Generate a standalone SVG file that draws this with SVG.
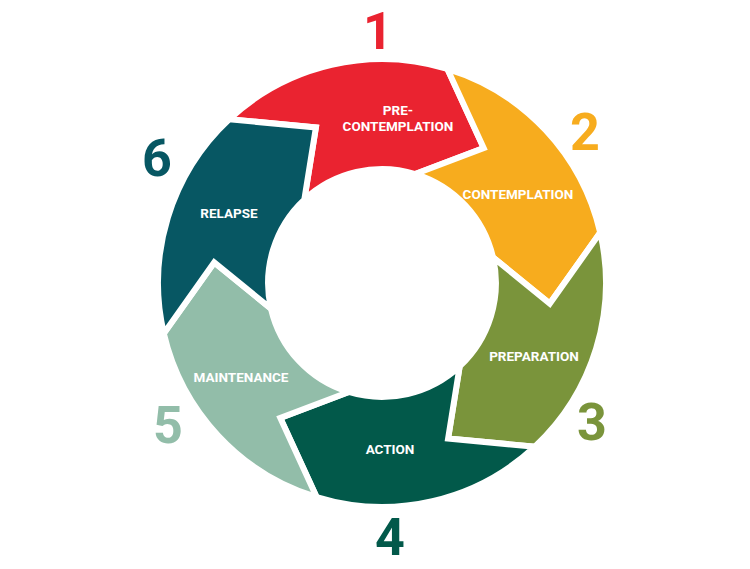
<svg xmlns="http://www.w3.org/2000/svg" width="750" height="569" viewBox="0 0 750 569">
<style>
.seg{stroke:#fff;stroke-width:6;stroke-linejoin:miter}
.lbl{font-family:Roboto,"Liberation Sans",sans-serif;font-weight:bold;font-size:13.5px;fill:#fff;text-anchor:middle}
.num{font-family:Roboto,"Liberation Sans",sans-serif;font-weight:bold;font-size:52px;text-anchor:middle}
</style>
<rect width="750" height="569" fill="#fff"/>
<g id="connectors"></g>
<g id="n1"><path class="seg" fill="#EA2330" d="M229.2,119.3 A224,224 0 0 1 447.4,68.9 L483.7,148.0 L415.3,174.0 A114,114 0 0 0 304.3,199.7 L315.9,127.4 Z"/>
<text class="lbl" x="398" y="115">PRE-</text><text class="lbl" x="398" y="131">CONTEMPLATION</text>
<text class="num" x="378" y="49" fill="#EA2330">1</text></g>
<g id="n2"><path class="seg" fill="#F7AC1E" d="M447.4,68.9 A224,224 0 0 1 600.2,232.6 L549.8,303.6 L493.0,257.4 A114,114 0 0 0 415.3,174.0 L483.7,148.0 Z"/>
<text class="lbl" x="518" y="199">CONTEMPLATION</text>
<text class="num" x="585" y="150" fill="#F7AC1E">2</text></g>
<g id="n3"><path class="seg" fill="#7A943B" d="M600.2,232.6 A224,224 0 0 1 534.8,446.7 L448.1,438.6 L459.7,366.3 A114,114 0 0 0 493.0,257.4 L549.8,303.6 Z"/>
<text class="lbl" x="534" y="361">PREPARATION</text>
<text class="num" x="592" y="440" fill="#7A943B">3</text></g>
<g id="n4"><path class="seg" fill="#02594A" d="M534.8,446.7 A224,224 0 0 1 316.6,497.1 L280.3,418.0 L348.7,392.0 A114,114 0 0 0 459.7,366.3 L448.1,438.6 Z"/>
<text class="lbl" x="390" y="454">ACTION</text>
<text class="num" x="390" y="555" fill="#02594A">4</text></g>
<g id="n5"><path class="seg" fill="#92BDA9" d="M316.6,497.1 A224,224 0 0 1 163.8,333.4 L214.2,262.4 L271.0,308.7 A114,114 0 0 0 348.7,392.0 L280.3,418.0 Z"/>
<text class="lbl" x="241" y="382">MAINTENANCE</text>
<text class="num" x="168" y="443" fill="#92BDA9">5</text></g>
<g id="n6"><path class="seg" fill="#075763" d="M163.8,333.4 A224,224 0 0 1 229.2,119.3 L315.9,127.4 L304.3,199.7 A114,114 0 0 0 271.0,308.7 L214.2,262.4 Z"/>
<text class="lbl" x="229" y="218">RELAPSE</text>
<text class="num" x="157" y="176" fill="#075763">6</text></g>
</svg>
